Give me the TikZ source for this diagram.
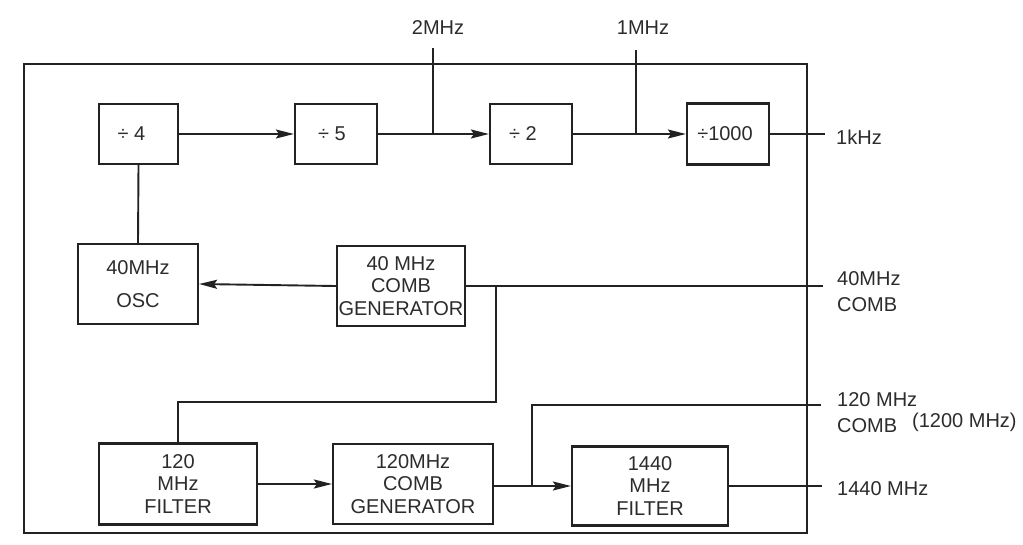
\documentclass[tikz,border=0pt]{standalone}
\usepackage{fontspec}
\setmainfont{Liberation Sans}
\usetikzlibrary{arrows.meta}
\definecolor{ink}{HTML}{222222}
\definecolor{txt}{HTML}{2C2C2C}
\begin{document}
\begin{tikzpicture}[x=1pt,y=-1pt,
  blk/.style={draw=ink,line width=2.2pt,rectangle,inner sep=0pt,align=center,text=txt,
              font=\fontsize{20}{22.5}\selectfont},
  wire/.style={draw=ink,line width=1.9pt},
  arr/.style={wire,-{Stealth[length=18pt,width=9pt,inset=3pt]}},
  lbl/.style={text=txt,font=\fontsize{20}{26}\selectfont,inner sep=0pt,align=left},
  frm/.style={draw=ink,line width=2.2pt,rectangle,inner sep=0pt}
]
\useasboundingbox (0,0) rectangle (1023,544);
\fill[white] (0,0) rectangle (1023,544);

% frame
\node[frm,minimum width=783pt,minimum height=469pt] (frame) at (415.5,298.5) {};

% top row
\node[blk,minimum width=79pt,minimum height=60pt] (d4) at (138.5,134) {÷ 4\hspace{14pt}};
\node[blk,minimum width=82pt,minimum height=60pt] (d5) at (336,134) {÷ 5\hspace{8pt}};
\node[blk,minimum width=82pt,minimum height=60pt] (d2) at (531,134) {÷ 2\hspace{16pt}};
\node[blk,minimum width=82pt,minimum height=61pt] (d1000) at (728,134) {÷1000\hspace{6pt}};

% middle row
\node[blk,minimum width=120pt,minimum height=80pt] (osc) at (138,284) {40MHz\\[10pt]OSC};
\node[blk,minimum width=128pt,minimum height=80pt] (cg40) at (401,286) {40 MHz\\COMB\\GENERATOR};

% bottom row
\node[blk,minimum width=158pt,minimum height=81pt] (f120) at (178,484) {120\\MHz\\FILTER\hspace{36pt}};
\node[blk,minimum width=160pt,minimum height=80pt] (cg120) at (413,484) {120MHz\\COMB\\GENERATOR};
\node[blk,minimum width=156pt,minimum height=79pt] (f1440) at (650,486) {1440\\MHz\\FILTER\hspace{14pt}};

% labels
\node[lbl] (l2) at (438,28) {2MHz};
\node[lbl] (l1) at (643,28) {1MHz};
\node[lbl,anchor=west] (l1k) at (836,137) {1kHz};
\node[lbl,anchor=west] (l40) at (837,292) {40MHz\\COMB};
\node[lbl,anchor=west] (l120) at (837,413) {120 MHz\\COMB};
\node[lbl,anchor=west] (l1200) at (912,422) {(1200 MHz)};
\node[lbl,anchor=west] (l1440) at (837,489) {1440 MHz};

% coordinates
\coordinate (j2) at (433,134);
\coordinate (t2) at (433,48);
\coordinate (j1) at (636,134);
\coordinate (t1) at (636,50);
\coordinate (o1k) at (825,134);
\coordinate (o40) at (823,286);
\coordinate (j40) at (496,286);
\coordinate (b40) at (496,402);
\coordinate (j120) at (532,486);
\coordinate (o120) at (821,405);
\coordinate (o1440) at (822,486);

% connectors
\draw[arr] (d4.east) -- (d5.west);
\draw[arr] (d5.east) -- (d2.west);
\draw[arr] (d2.east) -- (d1000.west);
\draw[wire] (j2) -- (t2);
\draw[wire] (j1) -- (t1);
\draw[wire] (d1000.east) -- (o1k);
\draw[wire] (d4.south) -- (osc.north);
\draw[arr] (cg40.west) -- (osc.east);
\draw[wire] (cg40.east) -- (o40);
\draw[wire] (j40) -- (b40) -| (f120.north);
\draw[arr] (f120.east) -- (cg120.west |- f120.east);
\draw[arr] (cg120.east |- f1440.west) -- (f1440.west);
\draw[wire] (j120) |- (o120);
\draw[wire] (f1440.east) -- (o1440);
\end{tikzpicture}
\end{document}
